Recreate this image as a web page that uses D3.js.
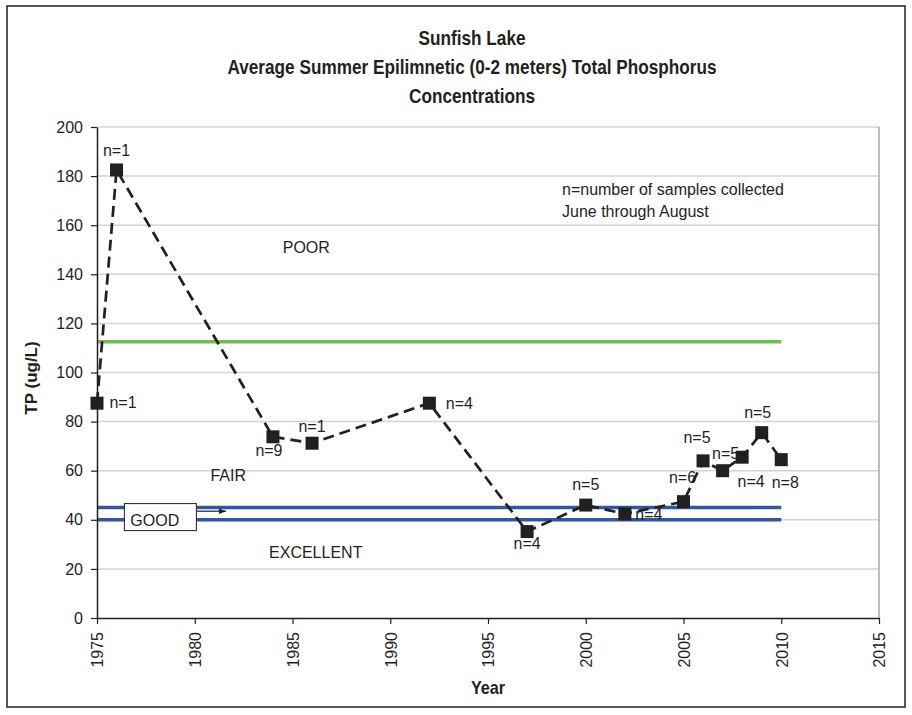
<!DOCTYPE html>
<html>
<head>
<meta charset="utf-8">
<script src="https://cdn.jsdelivr.net/npm/d3@7"></script>
<style>
  body { margin: 0; background: #fff; }
  text { font-family: 'Liberation Sans', Arial, sans-serif; fill: #231f20; }
</style>
</head>
<body>
<div id="chart"></div>
<script>
const WIDTH = 912;
const HEIGHT = 715;
const PLOT = { left: 97, right: 879, top: 127, bottom: 618 };
const TITLE_X = 472;

// data
const years = [1975, 1976, 1984, 1986, 1992, 1997, 2000, 2002, 2005, 2006, 2007, 2008, 2009, 2010];
const tpValues = [87.5, 182.5, 73.8, 71.2, 87.5, 35.2, 46, 42.4, 47.4, 64, 60, 65.5, 75.5, 64.5];
const sampleLabels = ['n=1', 'n=1', 'n=9', 'n=1', 'n=4', 'n=4', 'n=5', 'n=4', 'n=6', 'n=5', 'n=5', 'n=4', 'n=5', 'n=8'];
const thresholdYears = [1975, 2010];
const poorFair = [112.5, 112.5];
const fairGood = [45, 45];
const goodExcellent = [40, 40];
const yTicks = [0, 20, 40, 60, 80, 100, 120, 140, 160, 180, 200];
const xTicks = [1975, 1980, 1985, 1990, 1995, 2000, 2005, 2010, 2015];
const titleLines = ['Sunfish Lake', 'Average Summer Epilimnetic (0-2 meters) Total Phosphorus', 'Concentrations'];
const noteLines = ['n=number of samples collected', 'June through August'];

// where each n= label sits relative to its marker
const labelOffsets = {
  1975: [26, 5], 1976: [0, -14], 1984: [-4, 19], 1986: [0, -11], 1992: [30, 6],
  1997: [0, 17], 2000: [0, -15], 2002: [24, 6], 2005: [-1, -19], 2006: [-6, -18],
  2007: [3, -12], 2008: [9, 30], 2009: [-4, -15], 2010: [4, 28]
};

let svg = d3.select('#chart').append('svg')
  .attr('width', WIDTH)
  .attr('height', HEIGHT);

let xScale = d3.scaleLinear().domain([1975, 2015]).range([PLOT.left, PLOT.right]);
let yScale = d3.scaleLinear().domain([0, 200]).range([PLOT.bottom, PLOT.top]);

// outer frame
svg.append('rect')
  .attr('x', 7).attr('y', 6)
  .attr('width', 898).attr('height', 701)
  .attr('fill', 'none')
  .attr('stroke', '#231f20')
  .attr('stroke-width', 1.5);

// title, squeezed horizontally like the narrow face of the original
svg.append('g').attr('class', 'title')
  .selectAll('text')
  .data(titleLines)
  .enter()
  .append('text')
  .attr('x', 0)
  .attr('y', 0)
  .attr('text-anchor', 'middle')
  .attr('font-size', 20)
  .attr('font-weight', 'bold')
  .attr('transform', (d, i) => `translate(${TITLE_X}, ${45 + i * 29}) scale(0.86, 1)`)
  .text((d) => d);

// gridlines
svg.append('g').attr('class', 'grid')
  .selectAll('line')
  .data(yTicks.filter((t) => t > 0))
  .enter()
  .append('line')
  .attr('x1', PLOT.left).attr('x2', PLOT.right)
  .attr('y1', (d) => yScale(d)).attr('y2', (d) => yScale(d))
  .attr('stroke', '#d4d4d4')
  .attr('stroke-width', 1.5);

svg.append('line')
  .attr('x1', PLOT.right).attr('x2', PLOT.right)
  .attr('y1', PLOT.top).attr('y2', PLOT.bottom)
  .attr('stroke', '#a8a8a8')
  .attr('stroke-width', 1.5);

// threshold lines
let thresholdLine = d3.line()
  .x((d, i) => xScale(thresholdYears[i]))
  .y((d) => yScale(d));

[[poorFair, '#6cbf4a'], [fairGood, '#3057a6'], [goodExcellent, '#3057a6']].forEach(([series, color]) => {
  svg.append('path')
    .datum(series)
    .attr('d', thresholdLine)
    .attr('fill', 'none')
    .attr('stroke', color)
    .attr('stroke-width', 3.5);
});

// axes
let yAxis = d3.axisLeft(yScale)
  .tickValues(yTicks)
  .tickSize(6)
  .tickPadding(8)
  .tickSizeOuter(0);

let xAxis = d3.axisBottom(xScale)
  .tickValues(xTicks)
  .tickFormat(d3.format('d'))
  .tickSize(6)
  .tickSizeOuter(0);

let yAxisGroup = svg.append('g')
  .attr('class', 'yAxis')
  .attr('transform', `translate(${PLOT.left}, 0)`)
  .call(yAxis);

let xAxisGroup = svg.append('g')
  .attr('class', 'xAxis')
  .attr('transform', `translate(0, ${PLOT.bottom})`)
  .call(xAxis);

[yAxisGroup, xAxisGroup].forEach((g) => {
  g.select('.domain').attr('stroke', '#231f20').attr('stroke-width', 1.5);
  g.selectAll('.tick line').attr('stroke', '#231f20').attr('stroke-width', 1.2);
  g.selectAll('.tick text')
    .attr('font-family', "'Liberation Sans', Arial, sans-serif")
    .attr('font-size', 16)
    .attr('fill', '#231f20');
});

xAxisGroup.selectAll('.tick text')
  .attr('text-anchor', 'end')
  .attr('transform', 'rotate(-90)')
  .attr('x', -14)
  .attr('y', 0)
  .attr('dy', '0.36em');

// axis titles
svg.append('text')
  .attr('transform', 'translate(37, 378) rotate(-90)')
  .attr('text-anchor', 'middle')
  .attr('font-size', 17)
  .attr('font-weight', 'bold')
  .text('TP (ug/L)');

svg.append('text')
  .attr('transform', `translate(${(PLOT.left + PLOT.right) / 2}, 694) scale(0.9, 1)`)
  .attr('text-anchor', 'middle')
  .attr('font-size', 18)
  .attr('font-weight', 'bold')
  .text('Year');

// zone labels
let zoneLabels = [
  { text: 'POOR', year: 1984.5, value: 148.5 },
  { text: 'FAIR', year: 1980.8, value: 56 },
  { text: 'EXCELLENT', year: 1983.8, value: 24.5 }
];

svg.append('g').attr('class', 'zones')
  .selectAll('text')
  .data(zoneLabels)
  .enter()
  .append('text')
  .attr('x', (d) => xScale(d.year))
  .attr('y', (d) => yScale(d.value))
  .attr('font-size', 16)
  .text((d) => d.text);

// GOOD callout
let good = svg.append('g').attr('class', 'good');
good.append('rect')
  .attr('x', xScale(1976.4)).attr('y', yScale(46.6))
  .attr('width', 72).attr('height', 27)
  .attr('fill', '#fff')
  .attr('stroke', '#231f20')
  .attr('stroke-width', 1);
good.append('text')
  .attr('x', xScale(1976.4) + 6)
  .attr('y', yScale(37.4))
  .attr('font-size', 16)
  .text('GOOD');

svg.append('defs').append('marker')
  .attr('id', 'arrow')
  .attr('viewBox', '0 0 10 10')
  .attr('refX', 10).attr('refY', 5)
  .attr('markerWidth', 6).attr('markerHeight', 6)
  .attr('orient', 'auto')
  .append('path')
  .attr('d', 'M0,1 L10,5 L0,9 Z')
  .attr('fill', '#231f20');

good.append('line')
  .attr('x1', xScale(1976.4) + 72).attr('x2', xScale(1981.6))
  .attr('y1', yScale(43.5)).attr('y2', yScale(43.5))
  .attr('stroke', '#231f20')
  .attr('stroke-width', 1.2)
  .attr('marker-end', 'url(#arrow)');

// note
svg.append('g').attr('class', 'note')
  .selectAll('text')
  .data(noteLines)
  .enter()
  .append('text')
  .attr('x', 562)
  .attr('y', (d, i) => 195 + i * 22)
  .attr('font-size', 16)
  .text((d) => d);

// data
let points = years.map((year, i) => ({ year, value: tpValues[i], label: sampleLabels[i] }));

let dataLine = d3.line()
  .x((d) => xScale(d.year))
  .y((d) => yScale(d.value));

svg.append('path')
  .datum(points)
  .attr('d', dataLine)
  .attr('fill', 'none')
  .attr('stroke', '#231f20')
  .attr('stroke-width', 2.7)
  .attr('stroke-dasharray', '11,6');

svg.append('g').attr('class', 'points')
  .selectAll('rect')
  .data(points)
  .enter()
  .append('rect')
  .attr('x', (d) => xScale(d.year) - 6.5)
  .attr('y', (d) => yScale(d.value) - 6.5)
  .attr('width', 13).attr('height', 13)
  .attr('fill', '#231f20');

svg.append('g').attr('class', 'labels')
  .selectAll('text')
  .data(points)
  .enter()
  .append('text')
  .attr('x', (d) => xScale(d.year) + labelOffsets[d.year][0])
  .attr('y', (d) => yScale(d.value) + labelOffsets[d.year][1])
  .attr('text-anchor', 'middle')
  .attr('font-size', 16)
  .text((d) => d.label);
</script>
</body>
</html>
